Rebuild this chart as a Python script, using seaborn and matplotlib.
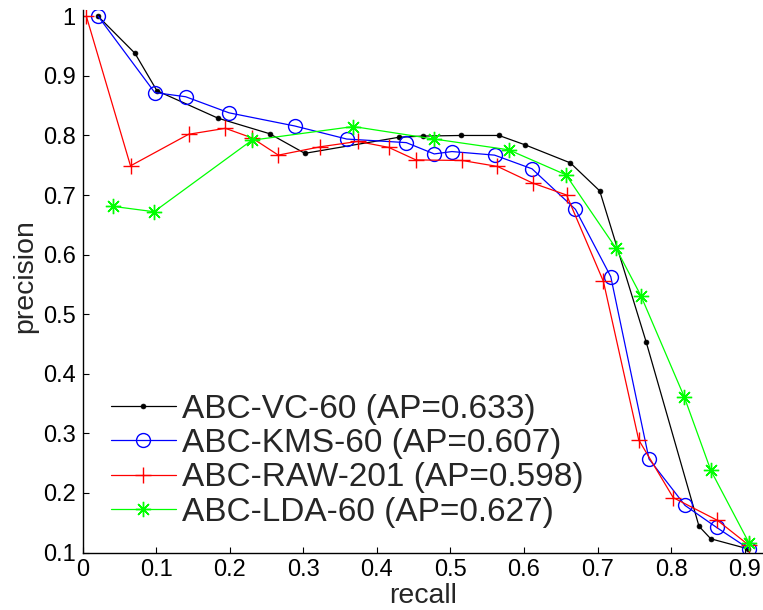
import matplotlib
matplotlib.use("Agg")
import matplotlib.pyplot as plt
import seaborn as sns
import pandas as pd
from matplotlib.ticker import FormatStrFormatter

# ---- data ----
vc_recall = [0.021, 0.071, 0.101, 0.184, 0.254, 0.302, 0.430, 0.463, 0.514, 0.566,
             0.602, 0.663, 0.703, 0.766, 0.838, 0.854, 0.905]
vc_prec = [1.000, 0.938, 0.875, 0.829, 0.803, 0.770, 0.797, 0.799, 0.800, 0.800,
           0.784, 0.754, 0.707, 0.454, 0.144, 0.123, 0.106]

kms_recall = [0.021, 0.098, 0.140, 0.199, 0.288, 0.359, 0.440, 0.478, 0.502, 0.560,
              0.611, 0.670, 0.718, 0.770, 0.819, 0.862, 0.906]
kms_prec = [1.000, 0.872, 0.865, 0.838, 0.816, 0.794, 0.788, 0.769, 0.773, 0.767,
            0.744, 0.676, 0.563, 0.257, 0.179, 0.142, 0.106]

raw_recall = [0.005, 0.065, 0.144, 0.194, 0.230, 0.266, 0.323, 0.374, 0.416, 0.453,
              0.516, 0.564, 0.612, 0.658, 0.708, 0.756, 0.803, 0.863, 0.906]
raw_prec = [1.000, 0.749, 0.802, 0.812, 0.796, 0.767, 0.781, 0.790, 0.780, 0.759,
            0.758, 0.748, 0.720, 0.700, 0.555, 0.289, 0.192, 0.154, 0.112]

lda_recall = [0.041, 0.097, 0.230, 0.368, 0.478, 0.579, 0.657, 0.725, 0.759, 0.818,
              0.854, 0.906]
lda_prec = [0.681, 0.672, 0.792, 0.815, 0.794, 0.776, 0.734, 0.611, 0.531, 0.361,
            0.238, 0.116]

labels = ["ABC-VC-60 (AP=0.633)", "ABC-KMS-60 (AP=0.607)",
          "ABC-RAW-201 (AP=0.598)", "ABC-LDA-60 (AP=0.627)"]
x_ticks = [0, 0.1, 0.2, 0.3, 0.4, 0.5, 0.6, 0.7, 0.8, 0.9]
y_ticks = [0.1, 0.2, 0.3, 0.4, 0.5, 0.6, 0.7, 0.8, 0.9, 1.0]

# ---- style ----
sns.set_style("ticks")
plt.rcParams["font.family"] = ["Liberation Sans", "DejaVu Sans"]

fig = plt.figure(figsize=(7.63, 6.10), dpi=100)
W, H = 763, 610
x0, y_bot, y_top = 82.7, 552.5, 10.0
ax = fig.add_axes([x0 / W, (H - y_bot) / H, (W - x0) / W, (y_bot - y_top) / H])

styles = [
    dict(color="black", marker="o", markersize=3.5, markerfacecolor="black",
         markeredgecolor="black", markeredgewidth=0.5),
    dict(color="blue", marker="o", markersize=10, markerfacecolor="none",
         markeredgecolor="blue", markeredgewidth=1.0),
    dict(color="red", marker="+", markersize=11, markerfacecolor="red",
         markeredgecolor="red", markeredgewidth=1.0),
    dict(color="#00ff00", marker=(8, 2, 0), markersize=11, markerfacecolor="#00ff00",
         markeredgecolor="#00ff00", markeredgewidth=1.0),
]
series = [(vc_recall, vc_prec), (kms_recall, kms_prec),
          (raw_recall, raw_prec), (lda_recall, lda_prec)]

for (xs, ys), lab, st in zip(series, labels, styles):
    df = pd.DataFrame({"recall": xs, "precision": ys})
    sns.lineplot(data=df, x="recall", y="precision", sort=False, ax=ax,
                 label=lab, linewidth=0.9, **st)

ax.set_xlim(0, 0.925)
ax.set_ylim(0.1, 1.0106)
ax.set_xticks(x_ticks)
ax.set_yticks(y_ticks)
ax.xaxis.set_major_formatter(FormatStrFormatter("%g"))
ax.yaxis.set_major_formatter(FormatStrFormatter("%g"))
ax.tick_params(direction="in", length=4.5, width=0.8, labelsize=17, pad=5,
               color="black", labelcolor="black")

for s in ["top", "right"]:
    ax.spines[s].set_visible(False)
for s in ["left", "bottom"]:
    ax.spines[s].set_color("black")
    ax.spines[s].set_linewidth(1.0)

ax.set_xlabel("recall", fontsize=20.5, labelpad=1)
ax.set_ylabel("precision", fontsize=20.5)
ax.yaxis.set_label_coords(-0.066, 0.51)

leg = ax.legend(loc="upper left", bbox_to_anchor=(0.041, 0.2926), frameon=False,
                fontsize=24, handlelength=1.95, handletextpad=0.2,
                labelspacing=0.10, borderpad=0, borderaxespad=0)

fig.savefig("out.png", dpi=100)
